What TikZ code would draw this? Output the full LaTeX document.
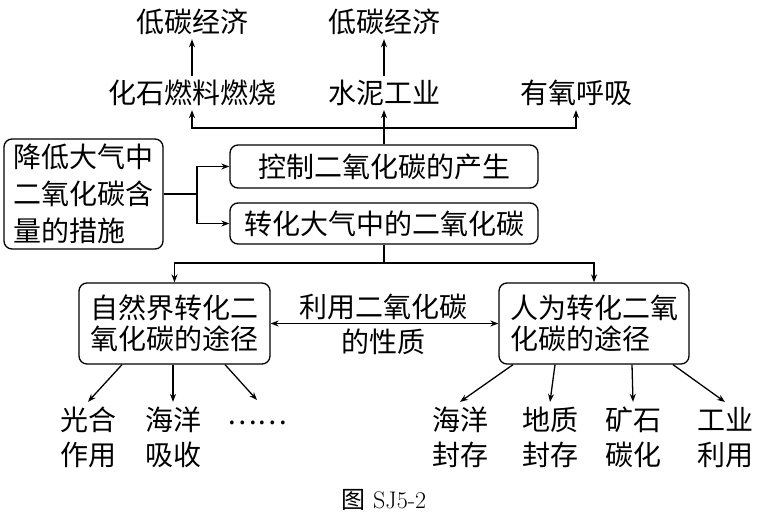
\documentclass[tikz,border=0pt]{standalone}
\usepackage{fontspec}
\newfontfamily\cjk{Noto Sans CJK SC}
\usetikzlibrary{arrows.meta,calc}
\begin{document}
\begin{tikzpicture}[x=1pt,y=-1pt,
  every node/.style={font=\cjk\fontsize{28}{37}\selectfont, inner sep=0pt},
  lbl/.style={inner ysep=4pt},
  two/.style={align=center, font=\cjk\fontsize{28}{35}\selectfont, inner ysep=5pt},
  arr/.style={-{Stealth[length=8pt,width=6pt]}, line width=1.3pt},
  dbl/.style={{Stealth[length=8pt,width=6pt]}-{Stealth[length=8pt,width=6pt]}, line width=1.3pt},
  ln/.style={line width=1.3pt},
  box/.style={draw, line width=1.3pt, rounded corners=8pt}
]
\useasboundingbox (0,0) rectangle (770,522);
\fill[white] (0,0) rectangle (770,522);

% top texts
\node[lbl] (t1) at (192,22) {低碳经济};
\node[lbl] (t2) at (384,22) {低碳经济};
\node[lbl] (f1) at (192,93) {化石燃料燃烧};
\node[lbl] (f2) at (384,93) {水泥工业};
\node[lbl] (f3) at (576,93) {有氧呼吸};

% boxes
\node[box, text width=140pt, align=left, inner xsep=9.5pt, minimum height=110pt] (L) at (83.5,194) {降低大气中\\二氧化碳含\\量的措施};
\node[box, minimum width=308pt, minimum height=43pt] (c1) at (384,166.5) {控制二氧化碳的产生};
\node[box, minimum width=308pt, minimum height=41pt] (c2) at (384,223.5) {转化大气中的二氧化碳};
\node[box, text width=168pt, align=left, inner xsep=11.5pt, minimum height=81pt, font=\cjk\fontsize{28}{31}\selectfont] (N) at (174.5,323.5) {自然界转化二\\氧化碳的途径};
\node[box, text width=168pt, align=left, inner xsep=11pt, minimum height=81pt, font=\cjk\fontsize{28}{31}\selectfont] (R) at (594,323.5) {人为转化二氧\\化碳的途径};

\node[align=center, font=\cjk\fontsize{28}{35}\selectfont] (p) at (383,324.5) {利用二氧化碳\\的性质};

% bottom texts
\node[two] (b1) at (88,437.5) {光合\\作用};
\node[two] (b2) at (173,437.5) {海洋\\吸收};
\node (b3) at (257,423) {……};
\coordinate (b3t) at (257,400);
\node[two] (b4) at (460,437.5) {海洋\\封存};
\node[two] (b5) at (550,437.5) {地质\\封存};
\node[two] (b6) at (633,437.5) {矿石\\碳化};
\node[two] (b7) at (725,437.5) {工业\\利用};

\node[font=\fontsize{24}{28}\selectfont] (cap) at (384,500) {{\cjk 图} SJ5-2};

% top connectors
\draw[arr] (f1) -- (t1);
\draw[arr] (f2) -- (t2);
\coordinate (j) at (384,128);
\draw[ln] (c1.north) -- (j);
\draw[arr] (j) -| (f1.south);
\draw[arr] (j) -- (f2.south);
\draw[arr] (j) -| (f3.south);

% left split
\coordinate (s) at (197,194);
\draw[ln] (L.east) -- (s);
\draw[arr] (s) |- (c1.west);
\draw[arr] (s) |- (c2.west);

% lower split
\coordinate (m) at (384,263);
\draw[ln] (c2.south) -- (m);
\draw[arr] (m) -| (N.north);
\draw[arr] (m) -| (R.north);

\draw[dbl] (N.east) -- (R.west);

% bottom arrows
\draw[arr] ($(N.south)+(-52.5,0)$) -- (b1.north);
\draw[arr] (N.south -| b2.north) -- (b2.north);
\draw[arr] ($(N.south)+(50.5,0)$) -- (b3t);
\draw[arr] ($(R.south)+(-81,0)$) -- (b4.north);
\draw[arr] ($(R.south)+(-39,0)$) -- (b5.north);
\draw[arr] ($(R.south)+(38,0)$) -- (b6.north);
\draw[arr] ($(R.south)+(79,0)$) -- (b7.north);
\end{tikzpicture}
\end{document}
